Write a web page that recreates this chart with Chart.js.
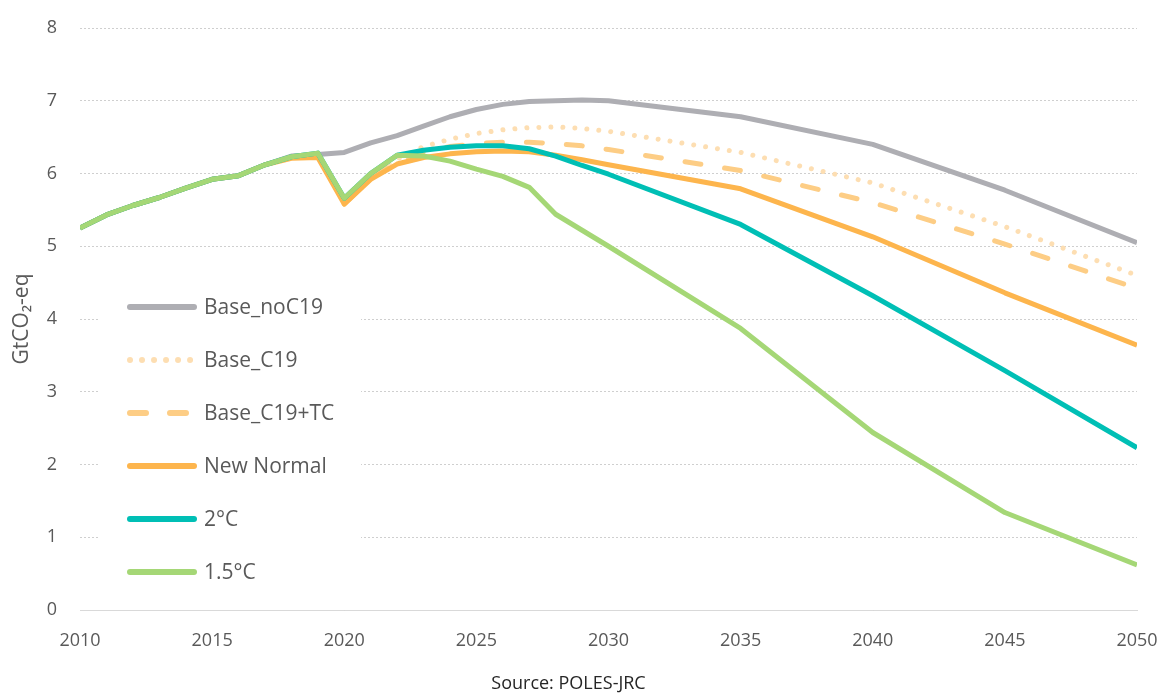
<!DOCTYPE html>
<html>
<head>
<meta charset="utf-8">
<script src="https://cdn.jsdelivr.net/npm/chart.js@4.4.0/dist/chart.umd.min.js"></script>
<style>
  html, body { margin: 0; padding: 0; background: #fff; }
  .chart-box { position: relative; width: 1164px; height: 695px; }
</style>
</head>
<body>
<div class="chart-box"><canvas id="emissionsChart"></canvas></div>
<script>
// years with a value in every series (annual to 2030, then every 5 years)
const years = [2010, 2011, 2012, 2013, 2014, 2015, 2016, 2017, 2018, 2019, 2020,
  2021, 2022, 2023, 2024, 2025, 2026, 2027, 2028, 2029, 2030, 2035, 2040, 2045, 2050];

const baseNoC19 = [5.25, 5.43, 5.56, 5.67, 5.80, 5.92, 5.97, 6.12, 6.24, 6.26, 6.29,
  6.42, 6.52, 6.65, 6.78, 6.88, 6.95, 6.99, 7.00, 7.01, 7.00, 6.78, 6.40, 5.77, 5.05];
const baseC19 = [null, null, null, null, null, null, null, null, null, null, 5.58,
  5.94, 6.20, 6.37, 6.47, 6.55, 6.60, 6.63, 6.64, 6.62, 6.58, 6.29, 5.87, 5.27, 4.60];
const baseC19TC = [null, null, null, null, null, null, null, null, null, null, 5.58,
  5.93, 6.17, 6.30, 6.37, 6.41, 6.43, 6.43, 6.41, 6.38, 6.33, 6.04, 5.60, 5.03, 4.42];
const newNormal = [5.25, 5.43, 5.56, 5.67, 5.80, 5.92, 5.97, 6.12, 6.21, 6.22, 5.58,
  5.92, 6.13, 6.22, 6.27, 6.30, 6.31, 6.30, 6.25, 6.19, 6.12, 5.79, 5.13, 4.36, 3.64];
const twoDeg = [5.25, 5.43, 5.56, 5.67, 5.80, 5.92, 5.97, 6.12, 6.23, 6.28, 5.66,
  6.00, 6.25, 6.32, 6.36, 6.38, 6.38, 6.34, 6.24, 6.11, 5.99, 5.30, 4.32, 3.29, 2.23];
const onePointFive = [5.25, 5.43, 5.56, 5.67, 5.80, 5.92, 5.97, 6.12, 6.23, 6.28, 5.66,
  6.00, 6.25, 6.24, 6.17, 6.06, 5.96, 5.81, 5.44, 5.22, 5.00, 3.87, 2.44, 1.34, 0.62];

const yTicks = [0, 1, 2, 3, 4, 5, 6, 7, 8];
const xTicks = [2010, 2015, 2020, 2025, 2030, 2035, 2040, 2045, 2050];

const toPoints = values => years.map((x, i) => ({ x: x, y: values[i] }));

const FONT = "'Open Sans', 'Noto Sans', sans-serif";
const TEXT_GREY = '#595959';

function series(label, values, color, dash, order) {
  return {
    label: label,
    data: toPoints(values),
    borderColor: color,
    backgroundColor: color,
    borderWidth: 5,
    borderDash: dash,
    borderCapStyle: dash.length ? 'round' : 'butt',
    borderJoinStyle: 'round',
    pointRadius: 0,
    tension: 0,
    fill: false,
    order: order,
  };
}

// legend sits inside the plot on a white box, like the original
const insideLegend = {
  id: 'insideLegend',
  afterDatasetsDraw(chart) {
    const { ctx, chartArea } = chart;
    const left = chartArea.left + 20;
    const top = chartArea.top + 242;
    ctx.save();
    ctx.fillStyle = '#ffffff';
    ctx.fillRect(left, top, 261, 330);
    chart.data.datasets.forEach((ds, i) => {
      const y = top + 37 + i * 53;
      ctx.beginPath();
      ctx.strokeStyle = ds.borderColor;
      ctx.lineWidth = 6;
      ctx.lineCap = 'round';
      ctx.setLineDash(ds.borderDash);
      ctx.moveTo(left + 30, y);
      ctx.lineTo(left + 94, y);
      ctx.stroke();
      ctx.setLineDash([]);
      ctx.fillStyle = TEXT_GREY;
      ctx.font = '21px ' + FONT;
      ctx.textBaseline = 'middle';
      ctx.textAlign = 'left';
      ctx.fillText(ds.label, left + 104, y + 1);
    });
    ctx.restore();
  },
};

const ctx = document.querySelector('#emissionsChart').getContext('2d');

new Chart(ctx, {
  type: 'line',
  data: {
    datasets: [
      series('Base_noC19', baseNoC19, '#AEAEB3', [], 6),
      series('Base_C19', baseC19, '#FDDEB2', [0.01, 12], 5),
      series('Base_C19+TC', baseC19TC, '#FDCD85', [16, 24], 4),
      series('New Normal', newNormal, '#FDB54D', [], 3),
      series('2°C', twoDeg, '#00BFB5', [], 2),
      series('1.5°C', onePointFive, '#A5D776', [], 1),
    ],
  },
  options: {
    responsive: true,
    maintainAspectRatio: false,
    animation: false,
    layout: { padding: { top: 28, right: 27, left: 0, bottom: 0 } },
    plugins: {
      legend: { display: false },
      tooltip: { enabled: false },
      title: {
        display: true,
        position: 'bottom',
        text: 'Source: POLES-JRC',
        color: '#262626',
        font: { family: FONT, size: 18, weight: 'normal', lineHeight: 1.2 },
        padding: { top: 19, bottom: 0 },
      },
    },
    scales: {
      x: {
        type: 'linear',
        min: 2010,
        max: 2050,
        afterFit: scale => {
          scale.height = 44.4;
          scale.paddingLeft = 0;
          scale.paddingRight = 0;
        },
        afterBuildTicks: scale => { scale.ticks = xTicks.map(v => ({ value: v })); },
        grid: { display: false, drawTicks: false },
        border: { display: true, color: '#d9d9d9', width: 1 },
        ticks: {
          color: TEXT_GREY,
          padding: 20,
          maxRotation: 0,
          font: { family: FONT, size: 18 },
          callback: v => String(v),
        },
      },
      y: {
        min: 0,
        max: 8,
        afterFit: scale => {
          scale.width = 80;
          scale.paddingTop = 0;
          scale.paddingBottom = 0;
        },
        afterBuildTicks: scale => { scale.ticks = yTicks.map(v => ({ value: v })); },
        grid: { color: '#cfcfcf', lineWidth: 1, drawTicks: false },
        border: { display: false, dash: [2, 2] },
        ticks: {
          color: TEXT_GREY,
          padding: 23,
          font: { family: FONT, size: 18 },
        },
        title: {
          display: true,
          text: 'GtCO₂-eq',
          color: TEXT_GREY,
          font: { family: FONT, size: 21 },
          padding: { top: 9, bottom: 0 },
        },
      },
    },
  },
  plugins: [insideLegend],
});
</script>
</body>
</html>
